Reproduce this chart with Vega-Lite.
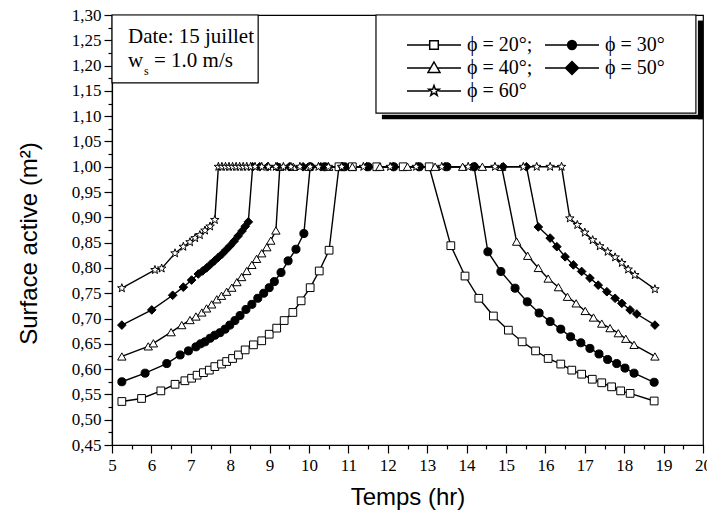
{
  "$schema": "https://vega.github.io/schema/vega-lite/v6.json",
  "width": 591,
  "height": 430,
  "autosize": "none",
  "padding": {"left": 112, "top": 15, "right": 4, "bottom": 72},
  "background": "white",
  "config": {
    "view": {"stroke": "black", "strokeWidth": 1.2},
    "axis": {"domainColor": "black", "domainWidth": 1.2, "tickColor": "black", "tickWidth": 1.2, "labelColor": "black", "titleColor": "black", "grid": false, "labelFont": "Liberation Serif", "labelFontSize": 17, "titleFont": "Liberation Sans", "titleFontSize": 24, "titleFontWeight": "normal", "labelFlush": false}
  },
  "data": {"values": [
    {"s":"ϕ = 20°","t":5.25,"v":0.536},{"s":"ϕ = 20°","t":5.75,"v":0.542},{"s":"ϕ = 20°","t":6.24,"v":0.557},{"s":"ϕ = 20°","t":6.60,"v":0.570},{"s":"ϕ = 20°","t":6.85,"v":0.577},{"s":"ϕ = 20°","t":7.02,"v":0.582},{"s":"ϕ = 20°","t":7.16,"v":0.588},{"s":"ϕ = 20°","t":7.32,"v":0.593},{"s":"ϕ = 20°","t":7.47,"v":0.598},{"s":"ϕ = 20°","t":7.61,"v":0.605},{"s":"ϕ = 20°","t":7.78,"v":0.610},{"s":"ϕ = 20°","t":7.91,"v":0.615},{"s":"ϕ = 20°","t":8.06,"v":0.621},{"s":"ϕ = 20°","t":8.21,"v":0.628},{"s":"ϕ = 20°","t":8.38,"v":0.638},{"s":"ϕ = 20°","t":8.59,"v":0.648},{"s":"ϕ = 20°","t":8.80,"v":0.656},{"s":"ϕ = 20°","t":8.99,"v":0.669},{"s":"ϕ = 20°","t":9.18,"v":0.681},{"s":"ϕ = 20°","t":9.37,"v":0.696},{"s":"ϕ = 20°","t":9.59,"v":0.712},{"s":"ϕ = 20°","t":9.80,"v":0.735},{"s":"ϕ = 20°","t":10.03,"v":0.761},{"s":"ϕ = 20°","t":10.26,"v":0.794},{"s":"ϕ = 20°","t":10.51,"v":0.835},{"s":"ϕ = 20°","t":10.76,"v":1.0},{"s":"ϕ = 20°","t":11.1,"v":1.0},{"s":"ϕ = 20°","t":11.72,"v":1.0},{"s":"ϕ = 20°","t":12.39,"v":1.0},{"s":"ϕ = 20°","t":13.05,"v":1.0},{"s":"ϕ = 20°","t":13.60,"v":0.844},{"s":"ϕ = 20°","t":13.96,"v":0.784},{"s":"ϕ = 20°","t":14.31,"v":0.740},{"s":"ϕ = 20°","t":14.68,"v":0.705},{"s":"ϕ = 20°","t":15.06,"v":0.677},{"s":"ϕ = 20°","t":15.41,"v":0.654},{"s":"ϕ = 20°","t":15.75,"v":0.636},{"s":"ϕ = 20°","t":16.07,"v":0.621},{"s":"ϕ = 20°","t":16.39,"v":0.610},{"s":"ϕ = 20°","t":16.67,"v":0.598},{"s":"ϕ = 20°","t":16.92,"v":0.590},{"s":"ϕ = 20°","t":17.19,"v":0.580},{"s":"ϕ = 20°","t":17.43,"v":0.573},{"s":"ϕ = 20°","t":17.68,"v":0.565},{"s":"ϕ = 20°","t":17.91,"v":0.557},{"s":"ϕ = 20°","t":18.15,"v":0.552},{"s":"ϕ = 20°","t":18.76,"v":0.537},
    {"s":"ϕ = 30°","t":5.25,"v":0.575},{"s":"ϕ = 30°","t":5.84,"v":0.592},{"s":"ϕ = 30°","t":6.39,"v":0.611},{"s":"ϕ = 30°","t":6.73,"v":0.628},{"s":"ϕ = 30°","t":6.94,"v":0.636},{"s":"ϕ = 30°","t":7.13,"v":0.644},{"s":"ϕ = 30°","t":7.25,"v":0.650},{"s":"ϕ = 30°","t":7.36,"v":0.654},{"s":"ϕ = 30°","t":7.49,"v":0.661},{"s":"ϕ = 30°","t":7.61,"v":0.667},{"s":"ϕ = 30°","t":7.74,"v":0.672},{"s":"ϕ = 30°","t":7.87,"v":0.679},{"s":"ϕ = 30°","t":7.99,"v":0.687},{"s":"ϕ = 30°","t":8.12,"v":0.696},{"s":"ϕ = 30°","t":8.25,"v":0.706},{"s":"ϕ = 30°","t":8.40,"v":0.718},{"s":"ϕ = 30°","t":8.55,"v":0.728},{"s":"ϕ = 30°","t":8.70,"v":0.740},{"s":"ϕ = 30°","t":8.85,"v":0.750},{"s":"ϕ = 30°","t":8.99,"v":0.761},{"s":"ϕ = 30°","t":9.12,"v":0.773},{"s":"ϕ = 30°","t":9.29,"v":0.791},{"s":"ϕ = 30°","t":9.47,"v":0.814},{"s":"ϕ = 30°","t":9.67,"v":0.837},{"s":"ϕ = 30°","t":9.87,"v":0.868},{"s":"ϕ = 30°","t":10.03,"v":1.0},{"s":"ϕ = 30°","t":10.4,"v":1.0},{"s":"ϕ = 30°","t":10.9,"v":1.0},{"s":"ϕ = 30°","t":11.5,"v":1.0},{"s":"ϕ = 30°","t":12.15,"v":1.0},{"s":"ϕ = 30°","t":12.8,"v":1.0},{"s":"ϕ = 30°","t":13.5,"v":1.0},{"s":"ϕ = 30°","t":14.19,"v":1.0},{"s":"ϕ = 30°","t":14.54,"v":0.832},{"s":"ϕ = 30°","t":14.87,"v":0.793},{"s":"ϕ = 30°","t":15.23,"v":0.760},{"s":"ϕ = 30°","t":15.54,"v":0.733},{"s":"ϕ = 30°","t":15.84,"v":0.711},{"s":"ϕ = 30°","t":16.12,"v":0.694},{"s":"ϕ = 30°","t":16.39,"v":0.679},{"s":"ϕ = 30°","t":16.64,"v":0.664},{"s":"ϕ = 30°","t":16.90,"v":0.652},{"s":"ϕ = 30°","t":17.13,"v":0.641},{"s":"ϕ = 30°","t":17.36,"v":0.630},{"s":"ϕ = 30°","t":17.58,"v":0.619},{"s":"ϕ = 30°","t":17.81,"v":0.611},{"s":"ϕ = 30°","t":18.02,"v":0.602},{"s":"ϕ = 30°","t":18.25,"v":0.592},{"s":"ϕ = 30°","t":18.76,"v":0.574},
    {"s":"ϕ = 40°","t":5.25,"v":0.625},{"s":"ϕ = 40°","t":5.92,"v":0.645},{"s":"ϕ = 40°","t":6.05,"v":0.651},{"s":"ϕ = 40°","t":6.50,"v":0.673},{"s":"ϕ = 40°","t":6.77,"v":0.687},{"s":"ϕ = 40°","t":6.98,"v":0.697},{"s":"ϕ = 40°","t":7.13,"v":0.704},{"s":"ϕ = 40°","t":7.28,"v":0.712},{"s":"ϕ = 40°","t":7.40,"v":0.720},{"s":"ϕ = 40°","t":7.53,"v":0.728},{"s":"ϕ = 40°","t":7.66,"v":0.738},{"s":"ϕ = 40°","t":7.78,"v":0.745},{"s":"ϕ = 40°","t":7.91,"v":0.753},{"s":"ϕ = 40°","t":8.04,"v":0.761},{"s":"ϕ = 40°","t":8.17,"v":0.772},{"s":"ϕ = 40°","t":8.29,"v":0.782},{"s":"ϕ = 40°","t":8.42,"v":0.794},{"s":"ϕ = 40°","t":8.55,"v":0.806},{"s":"ϕ = 40°","t":8.67,"v":0.818},{"s":"ϕ = 40°","t":8.80,"v":0.829},{"s":"ϕ = 40°","t":8.93,"v":0.841},{"s":"ϕ = 40°","t":9.03,"v":0.854},{"s":"ϕ = 40°","t":9.16,"v":0.874},{"s":"ϕ = 40°","t":9.26,"v":1.0},{"s":"ϕ = 40°","t":9.6,"v":1.0},{"s":"ϕ = 40°","t":10.0,"v":1.0},{"s":"ϕ = 40°","t":10.5,"v":1.0},{"s":"ϕ = 40°","t":11.1,"v":1.0},{"s":"ϕ = 40°","t":11.8,"v":1.0},{"s":"ϕ = 40°","t":12.5,"v":1.0},{"s":"ϕ = 40°","t":13.2,"v":1.0},{"s":"ϕ = 40°","t":13.9,"v":1.0},{"s":"ϕ = 40°","t":14.4,"v":1.0},{"s":"ϕ = 40°","t":14.89,"v":1.0},{"s":"ϕ = 40°","t":15.27,"v":0.852},{"s":"ϕ = 40°","t":15.55,"v":0.824},{"s":"ϕ = 40°","t":15.82,"v":0.800},{"s":"ϕ = 40°","t":16.07,"v":0.779},{"s":"ϕ = 40°","t":16.33,"v":0.762},{"s":"ϕ = 40°","t":16.56,"v":0.743},{"s":"ϕ = 40°","t":16.78,"v":0.730},{"s":"ϕ = 40°","t":17.01,"v":0.715},{"s":"ϕ = 40°","t":17.22,"v":0.702},{"s":"ϕ = 40°","t":17.43,"v":0.690},{"s":"ϕ = 40°","t":17.64,"v":0.681},{"s":"ϕ = 40°","t":17.85,"v":0.671},{"s":"ϕ = 40°","t":18.04,"v":0.660},{"s":"ϕ = 40°","t":18.25,"v":0.648},{"s":"ϕ = 40°","t":18.78,"v":0.625},
    {"s":"ϕ = 50°","t":5.25,"v":0.687},{"s":"ϕ = 50°","t":6.01,"v":0.717},{"s":"ϕ = 50°","t":6.54,"v":0.746},{"s":"ϕ = 50°","t":6.81,"v":0.762},{"s":"ϕ = 50°","t":7.02,"v":0.776},{"s":"ϕ = 50°","t":7.19,"v":0.788},{"s":"ϕ = 50°","t":7.30,"v":0.794},{"s":"ϕ = 50°","t":7.40,"v":0.800},{"s":"ϕ = 50°","t":7.50,"v":0.807},{"s":"ϕ = 50°","t":7.60,"v":0.814},{"s":"ϕ = 50°","t":7.70,"v":0.821},{"s":"ϕ = 50°","t":7.80,"v":0.828},{"s":"ϕ = 50°","t":7.90,"v":0.836},{"s":"ϕ = 50°","t":8.00,"v":0.844},{"s":"ϕ = 50°","t":8.10,"v":0.853},{"s":"ϕ = 50°","t":8.20,"v":0.863},{"s":"ϕ = 50°","t":8.30,"v":0.873},{"s":"ϕ = 50°","t":8.38,"v":0.882},{"s":"ϕ = 50°","t":8.46,"v":0.891},{"s":"ϕ = 50°","t":8.57,"v":1.0},{"s":"ϕ = 50°","t":8.75,"v":1.0},{"s":"ϕ = 50°","t":8.95,"v":1.0},{"s":"ϕ = 50°","t":9.2,"v":1.0},{"s":"ϕ = 50°","t":9.5,"v":1.0},{"s":"ϕ = 50°","t":9.85,"v":1.0},{"s":"ϕ = 50°","t":10.3,"v":1.0},{"s":"ϕ = 50°","t":10.85,"v":1.0},{"s":"ϕ = 50°","t":11.46,"v":1.0},{"s":"ϕ = 50°","t":12.14,"v":1.0},{"s":"ϕ = 50°","t":12.77,"v":1.0},{"s":"ϕ = 50°","t":13.45,"v":1.0},{"s":"ϕ = 50°","t":14.21,"v":1.0},{"s":"ϕ = 50°","t":14.93,"v":1.0},{"s":"ϕ = 50°","t":15.52,"v":1.0},{"s":"ϕ = 50°","t":15.82,"v":0.881},{"s":"ϕ = 50°","t":16.12,"v":0.859},{"s":"ϕ = 50°","t":16.29,"v":0.842},{"s":"ϕ = 50°","t":16.50,"v":0.822},{"s":"ϕ = 50°","t":16.71,"v":0.806},{"s":"ϕ = 50°","t":16.92,"v":0.793},{"s":"ϕ = 50°","t":17.13,"v":0.780},{"s":"ϕ = 50°","t":17.34,"v":0.766},{"s":"ϕ = 50°","t":17.56,"v":0.753},{"s":"ϕ = 50°","t":17.77,"v":0.740},{"s":"ϕ = 50°","t":17.94,"v":0.730},{"s":"ϕ = 50°","t":18.15,"v":0.717},{"s":"ϕ = 50°","t":18.32,"v":0.709},{"s":"ϕ = 50°","t":18.78,"v":0.687},
    {"s":"ϕ = 60°","t":5.25,"v":0.760},{"s":"ϕ = 60°","t":6.09,"v":0.796},{"s":"ϕ = 60°","t":6.26,"v":0.799},{"s":"ϕ = 60°","t":6.60,"v":0.829},{"s":"ϕ = 60°","t":6.81,"v":0.842},{"s":"ϕ = 60°","t":6.98,"v":0.851},{"s":"ϕ = 60°","t":7.11,"v":0.859},{"s":"ϕ = 60°","t":7.23,"v":0.865},{"s":"ϕ = 60°","t":7.36,"v":0.874},{"s":"ϕ = 60°","t":7.49,"v":0.882},{"s":"ϕ = 60°","t":7.61,"v":0.895},{"s":"ϕ = 60°","t":7.70,"v":1.0},{"s":"ϕ = 60°","t":7.79,"v":1.0},{"s":"ϕ = 60°","t":7.88,"v":1.0},{"s":"ϕ = 60°","t":7.97,"v":1.0},{"s":"ϕ = 60°","t":8.06,"v":1.0},{"s":"ϕ = 60°","t":8.15,"v":1.0},{"s":"ϕ = 60°","t":8.24,"v":1.0},{"s":"ϕ = 60°","t":8.33,"v":1.0},{"s":"ϕ = 60°","t":8.42,"v":1.0},{"s":"ϕ = 60°","t":8.52,"v":1.0},{"s":"ϕ = 60°","t":8.63,"v":1.0},{"s":"ϕ = 60°","t":8.80,"v":1.0},{"s":"ϕ = 60°","t":8.97,"v":1.0},{"s":"ϕ = 60°","t":9.16,"v":1.0},{"s":"ϕ = 60°","t":9.35,"v":1.0},{"s":"ϕ = 60°","t":9.54,"v":1.0},{"s":"ϕ = 60°","t":9.77,"v":1.0},{"s":"ϕ = 60°","t":10.03,"v":1.0},{"s":"ϕ = 60°","t":10.24,"v":1.0},{"s":"ϕ = 60°","t":10.49,"v":1.0},{"s":"ϕ = 60°","t":10.83,"v":1.0},{"s":"ϕ = 60°","t":11.38,"v":1.0},{"s":"ϕ = 60°","t":12.06,"v":1.0},{"s":"ϕ = 60°","t":12.72,"v":1.0},{"s":"ϕ = 60°","t":13.37,"v":1.0},{"s":"ϕ = 60°","t":14.04,"v":1.0},{"s":"ϕ = 60°","t":14.72,"v":1.0},{"s":"ϕ = 60°","t":15.44,"v":1.0},{"s":"ϕ = 60°","t":15.78,"v":1.0},{"s":"ϕ = 60°","t":16.12,"v":1.0},{"s":"ϕ = 60°","t":16.41,"v":1.0},{"s":"ϕ = 60°","t":16.62,"v":0.898},{"s":"ϕ = 60°","t":16.81,"v":0.885},{"s":"ϕ = 60°","t":17.0,"v":0.870},{"s":"ϕ = 60°","t":17.20,"v":0.855},{"s":"ϕ = 60°","t":17.38,"v":0.843},{"s":"ϕ = 60°","t":17.58,"v":0.832},{"s":"ϕ = 60°","t":17.77,"v":0.821},{"s":"ϕ = 60°","t":17.94,"v":0.810},{"s":"ϕ = 60°","t":18.10,"v":0.797},{"s":"ϕ = 60°","t":18.27,"v":0.786},{"s":"ϕ = 60°","t":18.78,"v":0.758}
  ]},
  "resolve": {"scale": {"shape": "independent", "size": "independent", "fill": "independent"}, "axis": {"x": "independent", "y": "independent"}},
  "layer": [
    {
      "mark": {"type": "line", "color": "black", "strokeWidth": 1.4},
      "encoding": {
        "x": {"field": "t", "type": "quantitative", "scale": {"domain": [5, 20], "nice": false, "zero": false},
          "axis": {"title": "Temps (hr)", "values": [5,5.5,6,6.5,7,7.5,8,8.5,9,9.5,10,10.5,11,11.5,12,12.5,13,13.5,14,14.5,15,15.5,16,16.5,17,17.5,18,18.5,19,19.5,20],
            "labelExpr": "datum.value % 1 === 0 ? format(datum.value, 'd') : ''",
            "labelOverlap": false,
            "tickSize": {"condition": {"test": "datum.value % 1 !== 0", "value": 4}, "value": 8},
            "labelPadding": 4, "titlePadding": 12}},
        "y": {"field": "v", "type": "quantitative", "scale": {"domain": [0.45, 1.30], "nice": false, "zero": false},
          "axis": {"title": "Surface active (m²)", "values": [0.45,0.475,0.5,0.525,0.55,0.575,0.6,0.625,0.65,0.675,0.7,0.725,0.75,0.775,0.8,0.825,0.85,0.875,0.9,0.925,0.95,0.975,1.0,1.025,1.05,1.075,1.1,1.125,1.15,1.175,1.2,1.225,1.25,1.275,1.3],
            "labelExpr": "round(datum.value*1000) % 50 === 0 ? replace(format(datum.value, '.2f'), '.', ',') : ''",
            "labelOverlap": false,
            "tickSize": {"condition": {"test": "round(datum.value*1000) % 50 !== 0", "value": 4}, "value": 8},
            "labelPadding": 3, "titlePadding": 30, "titleY": 228}},
        "detail": {"field": "s", "type": "nominal"}
      }
    },
    {
      "mark": {"type": "point", "filled": true, "stroke": "black", "strokeWidth": 1, "opacity": 1},
      "encoding": {
        "x": {"field": "t", "type": "quantitative", "axis": null},
        "y": {"field": "v", "type": "quantitative", "axis": null},
        "shape": {"field": "s", "type": "nominal", "legend": null, "scale": {"domain": ["ϕ = 20°","ϕ = 30°","ϕ = 40°","ϕ = 50°","ϕ = 60°"], "range": ["square","circle","triangle-up","diamond","M0,-1L0.241,-0.331L0.951,-0.309L0.389,0.126L0.588,0.809L0,0.409L-0.588,0.809L-0.389,0.126L-0.951,-0.309L-0.241,-0.331Z"]}},
        "fill": {"field": "s", "type": "nominal", "legend": null, "scale": {"domain": ["ϕ = 20°","ϕ = 30°","ϕ = 40°","ϕ = 50°","ϕ = 60°"], "range": ["white","black","white","black","white"]}},
        "size": {"field": "s", "type": "nominal", "legend": null, "scale": {"domain": ["ϕ = 20°","ϕ = 30°","ϕ = 40°","ϕ = 50°","ϕ = 60°"], "range": [60, 80, 150, 150, 130]}}
      }
    },
    {
      "mark": {"type": "point", "filled": true, "fill": "white", "color": "white", "stroke": "black", "strokeWidth": 1.2, "opacity": 0},
      "encoding": {
        "x": {"field": "t", "type": "quantitative", "axis": null},
        "y": {"field": "v", "type": "quantitative", "axis": null},
        "shape": {"field": "s", "type": "nominal",
          "scale": {"domain": ["ϕ = 20°","ϕ = 30°","ϕ = 40°","ϕ = 50°","ϕ = 60°"],
            "range": [
              "M-5.4,0L-0.86,0M0.86,0L5.4,0M-0.86,-0.86L0.86,-0.86L0.86,0.86L-0.86,0.86Z",
              "M-5.4,0L5.4,0M0.88,0A0.88,0.88,0,1,1,-0.88,0A0.88,0.88,0,1,1,0.88,0M0.73,0A0.73,0.73,0,1,1,-0.73,0A0.73,0.73,0,1,1,0.73,0M0.58,0A0.58,0.58,0,1,1,-0.58,0A0.58,0.58,0,1,1,0.58,0M0.43,0A0.43,0.43,0,1,1,-0.43,0A0.43,0.43,0,1,1,0.43,0M0.28,0A0.28,0.28,0,1,1,-0.28,0A0.28,0.28,0,1,1,0.28,0M0.13,0A0.13,0.13,0,1,1,-0.13,0A0.13,0.13,0,1,1,0.13,0",
              "M-5.4,0L-0.69,0M0.69,0L5.4,0M0,-1.2L1.2,0.88L-1.2,0.88Z",
              "M-5.4,0L5.4,0M0,-1.3L1.3,0L0,1.3L-1.3,0ZM0,-1.15L1.15,0L0,1.15L-1.15,0ZM0,-1L1,0L0,1L-1,0ZM0,-0.85L0.85,0L0,0.85L-0.85,0ZM0,-0.7L0.7,0L0,0.7L-0.7,0ZM0,-0.55L0.55,0L0,0.55L-0.55,0ZM0,-0.4L0.4,0L0,0.4L-0.4,0ZM0,-0.25L0.25,0L0,0.25L-0.25,0ZM0,-0.1L0.1,0L0,0.1L-0.1,0Z",
              "M-5.4,0L-0.9,0M0.9,0L5.4,0M0,-1.1L0.265,-0.364L1.046,-0.34L0.428,0.139L0.647,0.89L0,0.45L-0.647,0.89L-0.428,0.139L-1.046,-0.34L-0.265,-0.364Z"
            ]},
          "legend": {"orient": "none", "legendX": 312, "legendY": 20, "columns": 2, "direction": "horizontal", "title": null, "padding": 0,
            "symbolSize": 100, "labelOffset": 23, "columnPadding": 9, "rowPadding": 3, "symbolFillColor": "white",
            "labelFont": "Liberation Serif", "labelFontSize": 20, "labelColor": "black", "labelLimit": 200,
            "labelExpr": "datum.label + ((datum.value === 'ϕ = 20°' || datum.value === 'ϕ = 40°') ? ';' : '')",
            "encode": {"symbols": {"stroke": {"value": "black"}, "strokeWidth": {"value": 1.2}, "opacity": {"value": 1}, "fill": {"value": "white"}}}}
        }
      }
    },
    {
      "data": {"values": [{}]},
      "mark": {"type": "rect", "fill": "white", "stroke": "black", "strokeWidth": 1.2},
      "encoding": {"x": {"datum": 5, "type": "quantitative", "axis": null}, "x2": {"datum": 8.71}, "y": {"datum": 1.166, "type": "quantitative", "axis": null}, "y2": {"datum": 1.30}}
    },
    {
      "data": {"values": [{}]},
      "mark": {"type": "rect", "fill": "black"},
      "encoding": {"x": {"datum": 19.87, "type": "quantitative", "axis": null}, "x2": {"datum": 20.0}, "y": {"datum": 1.094, "type": "quantitative", "axis": null}, "y2": {"datum": 1.289}}
    },
    {
      "data": {"values": [{}]},
      "mark": {"type": "rect", "fill": "black"},
      "encoding": {"x": {"datum": 11.85, "type": "quantitative", "axis": null}, "x2": {"datum": 20.0}, "y": {"datum": 1.094, "type": "quantitative", "axis": null}, "y2": {"datum": 1.103}}
    },
    {
      "data": {"values": [{}]},
      "mark": {"type": "rect", "fill": "white", "stroke": "black", "strokeWidth": 1.2},
      "encoding": {"x": {"datum": 11.70, "type": "quantitative", "axis": null}, "x2": {"datum": 19.82}, "y": {"datum": 1.106, "type": "quantitative", "axis": null}, "y2": {"datum": 1.30}}
    },
    {
      "data": {"values": [{}]},
      "mark": {"type": "text", "text": "Date: 15 juillet", "align": "left", "baseline": "alphabetic", "font": "Liberation Serif", "fontSize": 21, "color": "black"},
      "encoding": {"x": {"datum": 5.406, "type": "quantitative", "axis": null}, "y": {"datum": 1.2446, "type": "quantitative", "axis": null}}
    },
    {
      "data": {"values": [{}]},
      "mark": {"type": "text", "text": "w", "align": "left", "baseline": "alphabetic", "font": "Liberation Serif", "fontSize": 21, "color": "black"},
      "encoding": {"x": {"datum": 5.406, "type": "quantitative", "axis": null}, "y": {"datum": 1.1978, "type": "quantitative", "axis": null}}
    },
    {
      "data": {"values": [{}]},
      "mark": {"type": "text", "text": "s", "align": "left", "baseline": "alphabetic", "font": "Liberation Serif", "fontSize": 12, "color": "black"},
      "encoding": {"x": {"datum": 5.81, "type": "quantitative", "axis": null}, "y": {"datum": 1.181, "type": "quantitative", "axis": null}}
    },
    {
      "data": {"values": [{}]},
      "mark": {"type": "text", "text": "= 1.0 m/s", "align": "left", "baseline": "alphabetic", "font": "Liberation Serif", "fontSize": 21, "color": "black"},
      "encoding": {"x": {"datum": 6.066, "type": "quantitative", "axis": null}, "y": {"datum": 1.1978, "type": "quantitative", "axis": null}}
    }
  ]
}
